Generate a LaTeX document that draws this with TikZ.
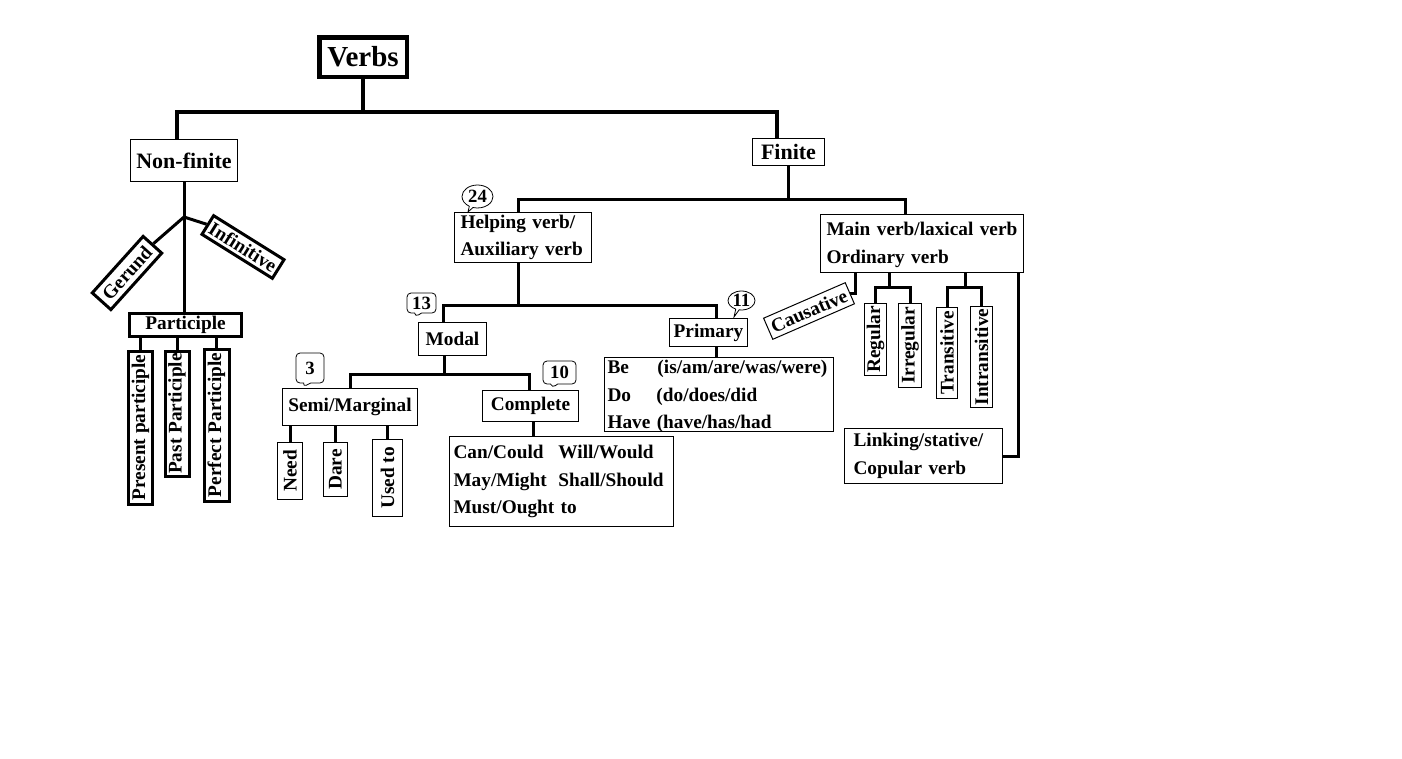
\documentclass[tikz,border=0pt]{standalone}
\usepackage{fontspec}
\setmainfont{Liberation Serif}
\usetikzlibrary{shapes.callouts}

\tikzset{
  box/.style={draw, line width=1pt, inner sep=0pt, font=\bfseries\fontsize{19.3}{28}\selectfont},
  boldbox/.style={box, line width=3pt},
  listbox/.style={box, align=left, inner ysep=0pt, inner xsep=#1, font=\bfseries\fontsize{19.3}{27.5}\selectfont},
  bubble/.style={draw, line width=0.8pt, inner sep=0pt, font=\bfseries\fontsize{18.7}{20}\selectfont},
  link/.style={line width=3pt},
  trunk/.style={line width=4.5pt}
}

\begin{document}
\begin{tikzpicture}[x=1pt, y=-1pt]
			%%%%% START %%%%%
			\fill[white] (0, 0) rectangle (1402, 758);
			\useasboundingbox (0, 0) rectangle (1402, 758);
			
			\node[box, line width=4.5pt, minimum width=87.5pt, minimum height=39.5pt, font=\bfseries\fontsize{29}{30}\selectfont] (verbs) at (363, 57) {Verbs};
			\node[box, minimum width=107pt, minimum height=42pt, font=\bfseries\fontsize{22}{24}\selectfont] (nonfinite) at (184, 160.5) {Non-finite};
			\node[box, minimum width=72pt, minimum height=27pt, font=\bfseries\fontsize{22}{24}\selectfont] (finite) at (788.5, 152) {Finite};
			
			\draw[trunk] (verbs.south) -- ++(0, 33) coordinate (vbar);
			\draw[trunk] ([xshift=-7pt]nonfinite.north) |- (vbar) -| ([xshift=-11.5pt]finite.north);
			
			% non-finite side
			\node[boldbox, rotate=48, minimum width=76pt, minimum height=25pt] (gerund) at (127, 273) {Gerund};
			\node[boldbox, rotate=-32, minimum width=83pt, minimum height=22pt] (infinitive) at (243, 247) {Infinitive};
			\node[boldbox, minimum width=112pt, minimum height=23pt] (participle) at (185.5, 325) {Participle};
			\node[boldbox, rotate=90, minimum width=153pt, minimum height=24pt] (present) at (140.5, 427.5) {Present participle};
			\node[boldbox, rotate=90, minimum width=125pt, minimum height=24pt] (past) at (177, 413.5) {Past Participle};
			\node[boldbox, rotate=90, minimum width=152pt, minimum height=25pt] (perfect) at (216.5, 425) {Perfect Participle};
			
			\path (nonfinite.south) ++(0, 35) coordinate (nfjoin);
			\draw[link] (nonfinite.south) -- (nonfinite.south |- participle.north);
			\draw[link] (nfjoin) -- (gerund.east);
			\draw[link] (nfjoin) -- (infinitive.west);
			\draw[link] (present.east |- participle.south) -- (present.east);
			\draw[link] (past.east |- participle.south) -- (past.east);
			\draw[link] (perfect.east |- participle.south) -- (perfect.east);
			
			% finite side
			\node[listbox=6pt, text width=125pt, minimum height=50pt] (helping) at (523, 237.5) {Helping verb/\\Auxiliary verb};
			\node[listbox=6pt, text width=191pt, minimum height=58pt, text height=14.5pt, text depth=30.2pt] (mainverb) at (922, 243.5) {Main verb/laxical verb\\Ordinary verb};
			
			\draw[link] (finite.south) -- ++(0, 33) coordinate (fbar);
			\draw[link] ([xshift=-5pt]helping.north) |- (fbar) -| ([xshift=-17pt]mainverb.north);
			
			\node[box, minimum width=68pt, minimum height=33pt] (modal) at (452.5, 339) {Modal};
			\node[box, minimum width=78pt, minimum height=28pt] (primary) at (708.5, 332.5) {Primary};
			\node[listbox=3pt, text width=223pt, minimum height=74pt, text height=15pt, text depth=57pt] (bedohave) at (719, 394.5) {\makebox[50pt][l]{Be}(is/am/are/was/were)\\\makebox[49pt][l]{Do}(do/does/did\\Have (have/has/had};
			
			\draw[link] ([xshift=-5pt]helping.south) -- ++(0, 42) coordinate (hbar);
			\draw[link] ([xshift=-9.5pt]modal.north) |- (hbar) -| ([xshift=7.5pt]primary.north);
			\draw[link] ([xshift=7.5pt]primary.south) coordinate (ps) -- (ps |- bedohave.north);
			
			\node[box, minimum width=135pt, minimum height=37pt] (semi) at (350, 407) {Semi/Marginal};
			\node[box, minimum width=96pt, minimum height=31pt] (complete) at (530.5, 406) {Complete};
			\node[listbox=4pt, text width=216pt, minimum height=90pt] (canmay) at (561.5, 481.5) {\makebox[105pt][l]{Can/Could}Will/Would\\\makebox[105pt][l]{May/Might}Shall/Should\\Must/Ought to};
			
			\draw[link] ([xshift=-8.5pt]modal.south) -- ++(0, 18) coordinate (mbar);
			\draw[link] (semi.north) |- (mbar) -| ([xshift=-1.5pt]complete.north);
			\draw[link] ([xshift=2.5pt]complete.south) coordinate (cs) -- (cs |- canmay.north);
			
			\node[box, rotate=90, minimum width=57pt, minimum height=25pt] (need) at (290, 471) {Need};
			\node[box, rotate=90, minimum width=54pt, minimum height=24pt] (dare) at (335.5, 469.5) {Dare};
			\node[box, rotate=90, minimum width=77pt, minimum height=30pt] (usedto) at (387.5, 478) {Used to};
			\draw[link] (need.east |- semi.south) -- (need.east);
			\draw[link] (dare.east |- semi.south) -- (dare.east);
			\draw[link] (usedto.east |- semi.south) -- (usedto.east);
			
			% main verb kinds
			\node[box, rotate=23.5, minimum width=89pt, minimum height=23pt] (causative) at (809, 311) {Causative};
			\node[box, rotate=90, minimum width=72pt, minimum height=22pt] (regular) at (875.5, 339.5) {Regular};
			\node[box, rotate=90, minimum width=84pt, minimum height=23pt] (irregular) at (910, 345.5) {Irregular};
			\node[box, rotate=90, minimum width=91pt, minimum height=21pt] (transitive) at (947, 353) {Transitive};
			\node[box, rotate=90, minimum width=101pt, minimum height=22pt] (intransitive) at (981.5, 357) {Intransitive};
			\node[listbox=9pt, text width=140pt, minimum height=55pt] (linking) at (923.5, 456) {Linking/stative/\\Copular verb};
			
			\draw[link] (causative.east) -| ([xshift=-67pt]mainverb.south);
			\draw[link] ([xshift=-33pt]mainverb.south) -- ++(0, 14) coordinate (rbar);
			\draw[link] (regular.east) |- (rbar) -| (irregular.east);
			\draw[link] ([xshift=43pt]mainverb.south) -- ++(0, 14) coordinate (tbar);
			\draw[link] (transitive.east) |- (tbar) -| (intransitive.east);
			\draw[link] ([xshift=96pt]mainverb.south) |- (linking.east);
			
			% counts
			\node[bubble, ellipse callout, minimum width=31pt, minimum height=23pt, callout absolute pointer={(468, 212)}] (n24) at (477.5, 196.5) {24};
			\node[bubble, rectangle callout, rounded corners=4pt, minimum width=29pt, minimum height=20pt, callout absolute pointer={(415, 317)}] (n13) at (421.5, 303) {13};
			\node[bubble, rectangle callout, rounded corners=4pt, minimum width=33pt, minimum height=23pt, callout absolute pointer={(552, 388)}] (n10) at (559.5, 372.5) {10};
			\node[bubble, rectangle callout, rounded corners=4pt, minimum width=28pt, minimum height=30pt, callout absolute pointer={(303, 387)}] (n3) at (310, 368) {3};
			\node[bubble, ellipse callout, minimum width=27pt, minimum height=19pt, callout absolute pointer={(734, 317)}] (n11) at (741.5, 300.5) {11};
			%%%%% END %%%%%
		\end{tikzpicture}
\end{document}
